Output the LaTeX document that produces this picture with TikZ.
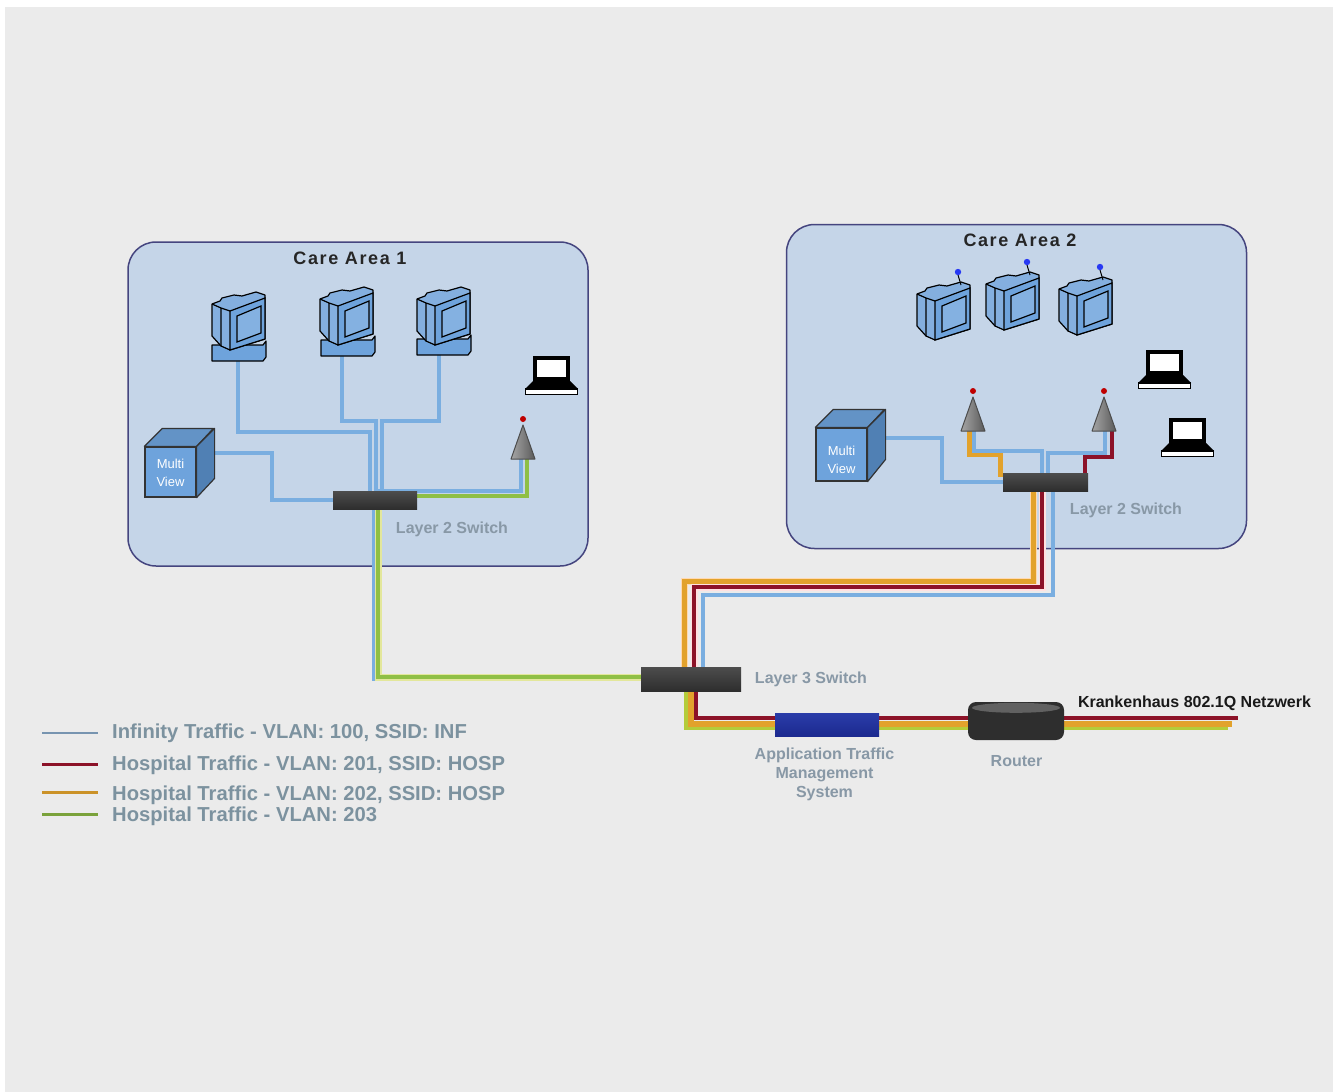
\documentclass[tikz,border=0pt]{standalone}
\usepackage{fontspec}
\setmainfont{Liberation Sans}
\newfontfamily\trackfont[LetterSpace=9]{Liberation Sans}
\definecolor{pagegrey}{HTML}{EBEBEB}
\definecolor{carefill}{HTML}{C5D5E8}
\definecolor{careedge}{HTML}{45457F}
\definecolor{devblue}{HTML}{6EA3DC}
\definecolor{devside}{HTML}{5080B4}
\definecolor{labelgrey}{HTML}{8898A6}
\definecolor{legendgrey}{HTML}{7C929F}
\definecolor{infblue}{HTML}{7AAEE0}
\definecolor{redvlan}{HTML}{8C1228}
\definecolor{orangevlan}{HTML}{E2A22C}
\definecolor{greenvlan}{HTML}{8FBF45}
\definecolor{limevlan}{HTML}{B4CC3A}
\definecolor{atmstop}{HTML}{2A3CA8}
\definecolor{atmsbot}{HTML}{1C2A90}
\pgfdeclarelayer{boxes}
\pgfdeclarelayer{wires}
\pgfsetlayers{boxes,wires,main}
\tikzset{
    carebox/.style={draw=careedge, line width=1.5pt, fill=carefill, rounded corners=28pt, minimum width=460pt, minimum height=324pt},
    caretitle/.style={font=\trackfont\fontsize{18}{18}\selectfont\bfseries, text=black!85},
    devlabel/.style={font=\fontsize{16}{19}\selectfont\bfseries, text=labelgrey, align=center},
    legendlabel/.style={font=\fontsize{20.2}{20.2}\selectfont\bfseries, text=legendgrey, anchor=west, inner sep=0pt, text height=13pt, text depth=3pt},
    cubefront/.style={draw=black!80, line width=1.2pt, fill=devblue, minimum width=51pt, inner sep=0pt},
    cubetext/.style={text=white, align=center, font=\fontsize{13}{18}\selectfont, inner sep=0pt},
    cubeface/.style={draw=black!80, line width=1.2pt, line join=round},
    switchbox/.style={top color=black!70, bottom color=black!82, inner sep=0pt, minimum width=84pt, minimum height=18pt},
    infline/.style={draw=infblue, line width=3.5pt},
    redline/.style={draw=redvlan, line width=4pt},
    orangeline/.style={draw=orangevlan, line width=5pt},
    greenline/.style={draw=greenvlan, line width=4.5pt},
    halo/.style={preaction={draw=#1, line width=7pt}},
    monitor/.pic={
        \draw[black, line width=1.2pt, fill=devblue!75!carefill, line join=round]
            (0,12) -- (8,9) -- (10,6) -- (22,3) -- (30,4) -- (44,0) -- (53,3) -- (53,47) -- (18,58) -- (9,54) -- (0,44) -- cycle;
        \draw[black, line width=1.2pt, fill=devblue] (18,19) -- (53,6) -- (53,47) -- (18,58) -- cycle;
        \draw[black, line width=1.2pt] (9,16) -- (9,54) (0,12) -- (9,16) -- (18,19);
        \draw[black, line width=1.2pt, fill=devblue!85!white] (25,24) -- (49,14) -- (49,41) -- (25,50) -- cycle;
    },
    monbase/.pic={
        \draw[black, line width=1.2pt, fill=devblue, line join=round] (0,0) -- (51,0) -- (54,-4) -- (54,12) -- (51,16) -- (0,16) -- cycle;
    },
    monaerial/.pic={
        \draw[black, line width=1pt] (44,3) -- (41,-7);
        \fill[blue!65!devblue] (41,-10) circle (3.2pt);
    },
    laptop/.pic={
        \fill[black] (8,0) rectangle (45,27);
        \fill[white] (12,4) rectangle (41,21);
        \fill[black] (8,25) -- (45,25) -- (53,33) -- (0,33) -- cycle;
        \draw[black, line width=1.2pt, fill=white] (0.5,33) rectangle (52.5,38.5);
    },
    antenna/.pic={
        \draw[black!70, line width=1pt, left color=black!35, right color=black!65, line join=round] (0,0) -- (-12,34) -- (12,34) -- cycle;
        \fill[red!75!black] (0,-6) circle (3pt);
    }
}
\begin{document}
\begin{tikzpicture}[x=1pt, y=-1pt]
    \useasboundingbox (0,0) rectangle (1333,1092);

    \begin{pgfonlayer}{boxes}
        \fill[white] (0,0) rectangle (1333,1092);
        \fill[pagegrey] (5,7) rectangle (1333,1092);
        \node[carebox] (care1) at (358,404) {};
        \node[carebox] (care2) at (1016.5,386.5) {};
    \end{pgfonlayer}
    \node[caretitle] (title1) at (350,258.5) {Care Area 1};
    \node[caretitle] (title2) at (1020,240.5) {Care Area 2};

    \node[switchbox] (sw1) at (375,500) {};
    \node[switchbox, minimum width=85pt] (sw2) at (1045.5,482) {};
    \node[switchbox, minimum width=100pt, minimum height=24pt] (sw3) at (691,679) {};
    \node[inner sep=0pt, minimum width=104pt, minimum height=23pt, top color=atmstop, bottom color=atmsbot] (atms) at (827,724.5) {};
    \node[inner sep=0pt, rounded corners=8pt, minimum width=96pt, minimum height=38pt, fill=black!82] (router) at (1016,721) {};
    \fill[black!62] (router.north) ++(0,6) ellipse (44pt and 5pt);

    \node[cubefront, minimum height=50pt] (mv1) at (170.5,472) {};
    \node[cubetext] (mv1text) at (170.5,472.5) {Multi\\View};
    \node[cubefront, minimum height=53pt] (mv2) at (841.5,454.5) {};
    \node[cubetext] (mv2text) at (841.5,459.5) {Multi\\View};
    \foreach \c in {mv1,mv2} {
        \draw[cubeface, fill=devblue!90!black] (\c.north west) -- ++(18,-18) -- ++(51,0) -- (\c.north east) -- cycle;
        \draw[cubeface, fill=devside] (\c.north east) -- ++(18,-18) -- ++(0,50) -- (\c.south east) -- cycle;
    }

    \pic at (212,345) {monbase};
    \pic at (321,340) {monbase};
    \pic at (417,339) {monbase};
    \pic at (212,292) {monitor};
    \pic at (320,287) {monitor};
    \pic at (417,287) {monitor};
    \foreach \x/\y in {917/282,986/272,1059/277} {
        \pic at (\x,\y) {monitor};
        \pic at (\x,\y) {monaerial};
    }

    \pic at (525,356) {laptop};
    \pic at (1138,350) {laptop};
    \pic at (1161,418) {laptop};

    \pic at (523,425) {antenna};
    \pic at (973,397) {antenna};
    \pic at (1104,397) {antenna};

    \coordinate (mona) at (238,361);
    \coordinate (monb) at (342,355);
    \coordinate (monc) at (439,355);
    \coordinate (tap1a) at (370,432);
    \coordinate (tap1b) at (376,421);
    \coordinate (tap1c) at (382,421);
    \coordinate (mv1out) at (214,453);
    \coordinate (tap1m) at (272,480);
    \coordinate (ant1blue) at (521,459);
    \coordinate (ant1green) at (527,459);
    \coordinate (trunkblue) at (374,679);
    \coordinate (trunkgreen) at (378,677);
    \coordinate (mv2out) at (885,438);
    \coordinate (tap2m) at (942,460);
    \coordinate (ant2orange) at (969,431);
    \coordinate (ant2blue) at (974,431);
    \coordinate (ant2inf) at (1105,431);
    \coordinate (ant2red) at (1112,431);
    \coordinate (tap2o) at (1000,454);
    \coordinate (tap2oend) at (1000,477);
    \coordinate (tap2a) at (1042,451);
    \coordinate (tap2b) at (1048,453);
    \coordinate (tap2r) at (1085,457);
    \coordinate (uporange) at (684,581);
    \coordinate (uporange2) at (1033,581);
    \coordinate (upred) at (694,587);
    \coordinate (upred2) at (1042,587);
    \coordinate (upblue) at (703,595);
    \coordinate (upblue2) at (1053,595);
    \coordinate (lowgreen) at (686,728);
    \coordinate (lowgreen2) at (1228,728);
    \coordinate (loworange) at (691,724);
    \coordinate (loworange2) at (1232,724);
    \coordinate (lowred) at (696,718);
    \coordinate (lowred2) at (1238,718);

    \begin{pgfonlayer}{wires}
        \draw[infline] (mona) |- (tap1a) -- (tap1a |- sw1);
        \draw[infline] (monb) |- (tap1b) -- (tap1b |- sw1);
        \draw[infline] (monc) |- (tap1c) -- (tap1c |- sw1);
        \draw[infline] (mv1out) -| (tap1m) |- (sw1);
        \draw[infline] (ant1blue) |- (sw1.north);
        \draw[greenline] (ant1green) |- ([yshift=4pt]sw1.center);
        \draw[infline] (trunkblue |- sw1) |- (sw3);
        \draw[greenline, halo=yellow!45!greenvlan!50!white] (trunkgreen |- sw1) -- (trunkgreen) -- (trunkgreen -| sw3);

        \draw[infline] (mv2out) -| (tap2m) |- (sw2);
        \draw[orangeline] (ant2orange) |- (tap2o) -- (tap2oend);
        \draw[infline] (ant2blue) |- (tap2a) -- (tap2a |- sw2);
        \draw[infline] (ant2inf) |- (tap2b) -- (tap2b |- sw2);
        \draw[redline] (ant2red) |- (tap2r) -- (tap2r |- sw2);

        \draw[orangeline, halo=orange!30!white] (uporange |- sw3) -- (uporange) -- (uporange2) -- (uporange2 |- sw2);
        \draw[redline, halo=red!12!white] (upred |- sw3) -- (upred) -- (upred2) -- (upred2 |- sw2);
        \draw[infline] (upblue |- sw3) -- (upblue) -- (upblue2) -- (upblue2 |- sw2);

        \draw[greenline, draw=limevlan] (lowgreen |- sw3) -- (lowgreen) -- (lowgreen2);
        \draw[orangeline, line width=6pt] (loworange |- sw3) -- (loworange) -- (loworange2);
        \draw[redline] (lowred |- sw3) -- (lowred) -- (lowred2);
    \end{pgfonlayer}

    \node[devlabel] (lab1) at (452,529) {Layer 2 Switch};
    \node[devlabel] (lab2) at (1126,510) {Layer 2 Switch};
    \node[devlabel] (lab3) at (811,679) {Layer 3 Switch};
    \node[devlabel] (lab4) at (824.5,774) {Application Traffic\\Management\\System};
    \node[devlabel] (lab5) at (1016.5,761) {Router};
    \node[font=\fontsize{16}{19}\selectfont\bfseries, text=black!90] (lab6) at (1194.5,703.5) {Krankenhaus 802.1Q Netzwerk};

    \foreach \n/\y/\s/\c/\w/\t in {
        1/733/0/infblue!70!black!80!white/2/{Infinity Traffic - VLAN: 100, SSID: INF},
        2/765/-1/redvlan/3/{Hospital Traffic - VLAN: 201, SSID: HOSP},
        3/795/-3/orangevlan!90!black/3/{Hospital Traffic - VLAN: 202, SSID: HOSP},
        4/816/-2/greenvlan!85!black/3/{Hospital Traffic - VLAN: 203}} {
        \node[legendlabel] (leg\n) at (112,\y) {\t};
        \coordinate (swatch\n) at (42,\y+\s);
        \draw[\c, line width=\w pt] (swatch\n) -- (swatch\n -| 98,0);
    }
\end{tikzpicture}
\end{document}
